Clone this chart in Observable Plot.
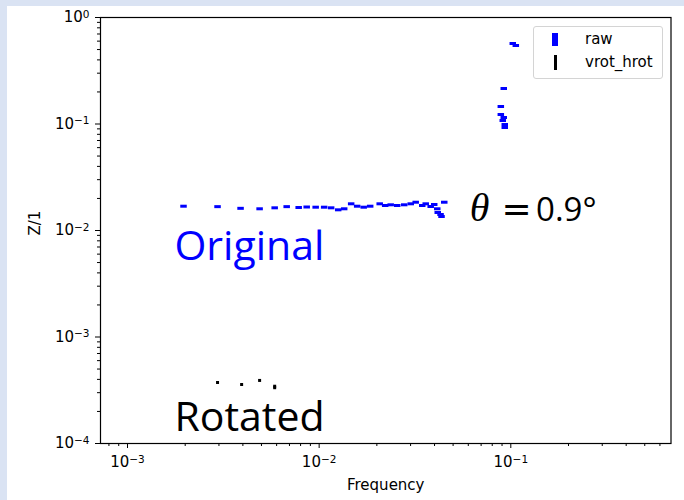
<!DOCTYPE html>
<html>
<head>
<meta charset="utf-8">
<script src="https://cdn.jsdelivr.net/npm/d3@7"></script>
<script src="https://cdn.jsdelivr.net/npm/@observablehq/plot@0.6"></script>
<style>
  html, body { margin: 0; padding: 0; overflow: hidden; background: #dae3f3; width: 684px; height: 500px; }
  #panel { position: absolute; left: 7px; top: 6px; width: 677px; height: 494px; background: #fff; }
  #legend { position: absolute; left: 533px; top: 26px; width: 128px; height: 51px; border: 1px solid #d4d4d4; border-radius: 3px; background: rgba(255,255,255,0.8); font-family: "DejaVu Sans"; font-size: 15px; }
  .sw { position: absolute; }
  .lt { position: absolute; left: 51px; line-height: 15px; }
</style>
</head>
<body>
<div id="panel"></div>
<div id="legend">
  <div class="sw" style="left:18px;top:6px;width:6px;height:13px;background:#0000ff"></div>
  <div class="lt" style="top:5px">raw</div>
  <div class="sw" style="left:20px;top:28px;width:3px;height:15px;background:#000"></div>
  <div class="lt" style="top:28px">vrot_hrot</div>
</div>
<script>
// ---- data ----
const rawFreq = [0.00196, 0.00295, 0.00389, 0.00489, 0.00586, 0.00677, 0.00782, 0.00861, 0.00959, 0.01062,
  0.01155, 0.01257, 0.01351, 0.01469, 0.01579, 0.01708, 0.01846, 0.0207, 0.02211, 0.02362,
  0.02555, 0.02779, 0.03005, 0.0319, 0.03451, 0.03598, 0.0382, 0.03985, 0.04133, 0.04157,
  0.0430, 0.0435, 0.04496,
  0.0887, 0.0887, 0.0919, 0.0908, 0.0930, 0.0930, 0.0919, 0.1024, 0.1062];
const rawZ = [0.01691, 0.01675, 0.01615, 0.01599, 0.01633, 0.01675, 0.01644, 0.01662, 0.01655, 0.01655,
  0.01633, 0.01564, 0.01599, 0.01781, 0.01691, 0.01655, 0.01691, 0.01781, 0.01717, 0.01743,
  0.01717, 0.01743, 0.01781, 0.01843, 0.01717, 0.01781, 0.01680, 0.01755, 0.01599, 0.01476,
  0.01413, 0.01353, 0.01843,
  0.1460, 0.1228, 0.1151, 0.1078, 0.0989, 0.0927, 0.2154, 0.570, 0.546];
const rotFreq = [0.00295, 0.00394, 0.00489, 0.00586, 0.00586];
const rotZ = [0.000374, 0.000358, 0.000391, 0.000345, 0.000334];

const xMajor = [1e-3, 1e-2, 1e-1];
const xTickLabels = ["10^\u22123", "10^\u22122", "10^\u22121"];
const yMajor = [1e-4, 1e-3, 1e-2, 1e-1, 1];
const yTickLabels = ["10^\u22124", "10^\u22123", "10^\u22122", "10^\u22121", "10^0"];

const annText = ["Original", "Rotated", "\u03B8", "=", "0.9\u00B0"];
const annFreq = [0.001758, 0.001758, 0.061, 0.0895, 0.1355];
const annZ = [0.00534, 0.0001297, 0.01215, 0.01215, 0.01215];

// ---- build ----
const raw = rawFreq.map((f, i) => ({f, z: rawZ[i]}));
const rot = rotFreq.map((f, i) => ({f, z: rotZ[i]}));
const ann = annText.map((t, i) => ({t, f: annFreq[i], z: annZ[i]}));

const xDomain = [10 ** -3.1409, 10 ** -0.1641];
const yDomain = [1e-4, 1];
const minor = (lo, hi) => {
  const out = [];
  for (let e = Math.floor(Math.log10(lo)); e <= Math.ceil(Math.log10(hi)); e++)
    for (let m = 2; m <= 9; m++) { const v = m * 10 ** e; if (v >= lo && v <= hi) out.push(v); }
  return out;
};
const xMinor = minor(...xDomain);
const yMinor = minor(...yDomain);

const hbar = {draw(ctx) { ctx.rect(-3.25, -1.5, 6.5, 3); }};
const sq = {draw(ctx) { ctx.rect(-1.5, -1.5, 3, 3); }};

const chart = Plot.plot({
  width: 677, height: 494,
  marginLeft: 93, marginRight: 13.5, marginTop: 11, marginBottom: 57,
  x: {type: "log", domain: xDomain, axis: null},
  y: {type: "log", domain: yDomain, axis: null},
  style: {fontFamily: "DejaVu Sans", fontSize: "15px", color: "black", background: "white", overflow: "visible"},
  marks: [
    Plot.axisX(xMinor, {anchor: "bottom", tickSize: 3, tickFormat: () => "", label: null, stroke: "black"}),
    Plot.axisX(xMajor, {anchor: "bottom", tickSize: 5, tickPadding: 8, tickFormat: d => xTickLabels[xMajor.indexOf(d)], label: null, stroke: "black", fontSize: 15}),
    Plot.axisY(yMinor, {anchor: "left", tickSize: 3, tickFormat: () => "", label: null, stroke: "black"}),
    Plot.axisY(yMajor, {anchor: "left", tickSize: 5, tickPadding: 6, tickFormat: d => yTickLabels[yMajor.indexOf(d)], label: null, stroke: "black", fontSize: 15}),
    Plot.text(["Frequency"], {frameAnchor: "bottom", dy: 46, text: d => d, fontSize: 15}),
    Plot.text(["Z/1"], {frameAnchor: "left", dx: -65, dy: 5, rotate: -90, text: d => d, fontSize: 15}),
    Plot.dot(raw, {x: "f", y: "z", symbol: hbar, fill: "#0000ff", stroke: "none"}),
    Plot.dot(rot, {x: "f", y: "z", symbol: sq, fill: "#000", stroke: "none"}),
    Plot.text(ann.slice(0, 1), {x: "f", y: "z", text: "t", textAnchor: "start", lineAnchor: "bottom", fontFamily: "Open Sans", fontSize: 41, fill: "#0000ff"}),
    Plot.text(ann.slice(1, 2), {x: "f", y: "z", text: "t", textAnchor: "start", lineAnchor: "bottom", fontFamily: "Open Sans", fontSize: 41, fill: "#000"}),
    Plot.text(ann.slice(2, 3), {x: "f", y: "z", text: "t", textAnchor: "start", lineAnchor: "bottom", fontFamily: "Liberation Serif", fontStyle: "italic", fontSize: 40, fill: "#000"}),
    Plot.text(ann.slice(3, 4), {x: "f", y: "z", text: "t", textAnchor: "start", lineAnchor: "bottom", fontFamily: "DejaVu Sans", fontSize: 36, fill: "#000"}),
    Plot.text(ann.slice(4, 5), {x: "f", y: "z", text: "t", textAnchor: "start", lineAnchor: "bottom", fontFamily: "Open Sans", fontSize: 33, fill: "#000"}),
    Plot.frame({stroke: "black", strokeWidth: 1.2})
  ]
});

// render "10^e" tick labels as 10 with a raised, smaller exponent
const svgns = "http://www.w3.org/2000/svg";
chart.querySelectorAll("text").forEach(t => {
  const m = t.textContent.match(/^10\^(.+)$/);
  if (!m) return;
  t.textContent = "10";
  const ts = document.createElementNS(svgns, "tspan");
  ts.setAttribute("dy", "-0.42em");
  ts.setAttribute("font-size", "10.5");
  ts.textContent = m[1];
  t.appendChild(ts);
});
document.getElementById("panel").appendChild(chart);
</script>
</body>
</html>
